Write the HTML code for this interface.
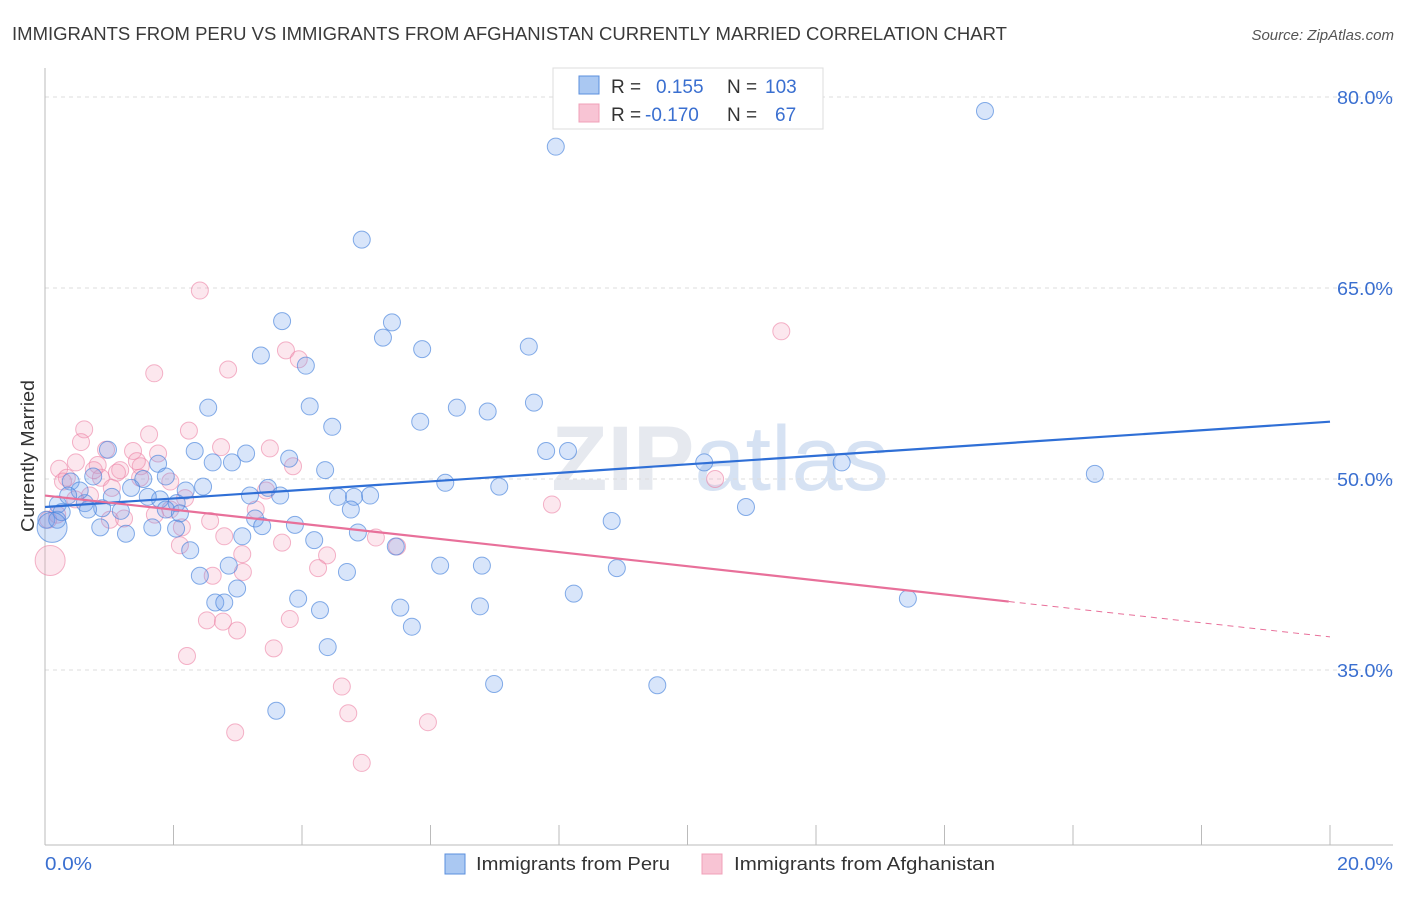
<!DOCTYPE html>
<html><head><meta charset="utf-8"><style>
body{margin:0;background:#fff;font-family:"Liberation Sans",sans-serif}
svg text{font-family:"Liberation Sans",sans-serif}
</style></head><body>
<svg id="chart" width="1406" height="892" viewBox="0 0 1406 892" xmlns="http://www.w3.org/2000/svg">
<text x="12" y="40" font-size="18" fill="#3a3a3a" textLength="995" lengthAdjust="spacingAndGlyphs">IMMIGRANTS FROM PERU VS IMMIGRANTS FROM AFGHANISTAN CURRENTLY MARRIED CORRELATION CHART</text>
<text x="1394" y="40" font-size="15" fill="#555" text-anchor="end" font-style="italic">Source: ZipAtlas.com</text>
<text x="720" y="490" font-size="92" fill="#e6e9ef" text-anchor="middle" font-family="Liberation Serif" font-weight="bold">ZIP<tspan font-family="Liberation Sans" font-weight="normal" fill="#d6e2f3">atlas</tspan></text>
<g id="grid"></g><g id="axes"></g><g id="pts"></g><g id="trend"></g>
<text transform="translate(34,456) rotate(-90)" font-size="18" fill="#333" text-anchor="middle" textLength="152" lengthAdjust="spacingAndGlyphs">Currently Married</text>
<g>
<rect x="553" y="68" width="270" height="61" fill="#fff" stroke="#ddd"/>
<rect x="579" y="76" width="20" height="18" fill="#aac8f2" stroke="#5b8fdd"/>
<rect x="579" y="104" width="20" height="18" fill="#f8c4d4" stroke="#f0a0b8"/>
<text x="611" y="93" font-size="19" fill="#333">R = <tspan fill="#3a6fd0" x="656">0.155</tspan><tspan fill="#333" x="727">N =</tspan><tspan fill="#3a6fd0" x="765">103</tspan></text>
<text x="611" y="121" font-size="19" fill="#333">R = <tspan fill="#3a6fd0" x="645">-0.170</tspan><tspan fill="#333" x="727">N =</tspan><tspan fill="#3a6fd0" x="775">67</tspan></text>
</g>
<g>
<rect x="445" y="854" width="20" height="20" fill="#aac8f2" stroke="#5b8fdd"/>
<text x="476" y="870" font-size="18" fill="#333" textLength="194" lengthAdjust="spacingAndGlyphs">Immigrants from Peru</text>
<rect x="702" y="854" width="20" height="20" fill="#f8c4d4" stroke="#f0a0b8"/>
<text x="734" y="870" font-size="18" fill="#333" textLength="261" lengthAdjust="spacingAndGlyphs">Immigrants from Afghanistan</text>
</g>
</svg>
<script>
const yTicks=[80,65,50,35];
const xTickLabels=["0.0%","20.0%"];
const blueX=[14.63,7.95,4.93,3.69,5.40,5.26,5.87,3.36,7.53,4.06,2.54,4.12,6.41,6.89,7.61,5.84,4.47,0.98,2.33,3.13,7.80,8.14,3.80,2.61,2.91,4.36,10.26,12.40,16.34,1.76,1.88,1.53,0.75,0.40,2.46,2.19,1.34,6.23,7.07,3.47,3.19,3.66,4.56,4.81,5.06,1.04,1.79,2.05,0.20,0.62,0.89,1.18,4.76,1.88,2.10,3.27,8.82,10.91,0.02,0.19,0.86,1.26,1.67,2.04,3.38,3.89,4.19,3.07,4.87,5.46,2.26,6.15,6.80,8.90,2.86,4.70,2.41,2.99,8.23,3.94,2.65,2.79,4.28,5.53,6.77,5.71,13.43,4.40,6.99,9.53,3.60,0.26,0.54,0.67,1.60,0.36];
const blueY=[78.9,76.1,68.8,62.4,62.3,61.1,60.2,59.7,60.4,58.9,55.6,55.7,55.6,55.3,56.0,54.5,54.1,52.3,52.2,52.0,52.2,52.2,51.6,51.3,51.3,50.7,51.3,51.3,50.4,51.2,50.2,50.0,50.2,49.8,49.4,49.1,49.3,49.7,49.4,49.3,48.7,48.7,48.6,48.6,48.7,48.6,48.4,48.1,48.0,48.1,47.7,47.5,47.6,47.6,47.3,46.9,46.7,47.8,46.8,46.8,46.2,45.7,46.2,46.1,46.3,46.4,45.2,45.5,45.8,44.7,44.4,43.2,43.2,43.0,43.2,42.7,42.4,41.4,41.0,40.6,40.3,40.3,39.7,39.9,40.0,38.4,40.6,36.8,33.9,33.8,31.8,47.4,49.1,47.6,48.6,48.7];
const blueBigX=[0.11], blueBigY=[46.2];
const pinkX=[2.41,11.46,3.75,1.70,2.85,3.95,0.61,0.56,2.24,1.62,2.74,3.50,0.95,0.22,0.48,0.82,1.37,1.76,1.49,1.17,1.43,3.86,0.87,0.34,1.12,1.95,10.43,7.89,2.18,1.01,1.23,2.13,2.57,3.44,3.28,2.79,3.07,2.10,3.69,5.15,5.48,4.39,4.25,3.08,2.61,2.52,2.77,2.99,3.81,3.56,2.21,4.62,4.72,5.96,2.96,4.93,0.19,0.05,0.28,0.76,1.95,0.70,1.04,0.47,1.48,1.71];
const pinkY=[64.8,61.6,60.1,58.3,58.6,59.4,53.9,52.9,53.8,53.5,52.5,52.4,52.3,50.8,51.3,51.1,52.2,52.0,51.0,50.7,51.4,51.0,50.1,50.1,50.5,49.8,50.0,48.0,48.5,46.8,46.9,46.2,46.7,49.1,47.6,45.5,44.1,44.8,45.0,45.4,44.7,44.0,43.0,42.7,42.4,38.9,38.8,38.1,39.0,36.7,36.1,33.7,31.6,30.9,30.1,27.7,47.2,46.8,49.8,50.7,47.6,48.7,49.3,48.4,50.1,47.2];
const pinkBigX=[0.08], pinkBigY=[43.6];
const blueTrend=[47.8,54.5];
const pinkTrend=[48.7,37.6];
const pinkSolidEnd=15.0;

const NS="http://www.w3.org/2000/svg";
const X=v=>45+v*64.25;
const Y=v=>97+(80-v)*12.733;
function mk(tag,attrs,parent){const e=document.createElementNS(NS,tag);for(const k in attrs)e.setAttribute(k,attrs[k]);parent.appendChild(e);return e;}
const grid=document.getElementById('grid'),axes=document.getElementById('axes'),pts=document.getElementById('pts'),trend=document.getElementById('trend');
yTicks.forEach(t=>{
  const l=mk('line',{x1:45,x2:1393,y1:Y(t),y2:Y(t),stroke:'#dcdcdc','stroke-dasharray':'4,4'},grid);
  
  
  const tx=mk('text',{x:1337,y:Y(t)+7,'font-size':18,fill:'#3a6fd0',textLength:56,lengthAdjust:'spacingAndGlyphs'},grid);
  tx.textContent=t.toFixed(1)+'%';
  
  
});
const ax=mk('line',{x1:45,x2:45,y1:68,y2:845,stroke:'#bbb'},axes);


const bx=mk('line',{x1:45,x2:1393,y1:845,y2:845,stroke:'#bbb'},axes);


for(let i=0;i<=10;i++){
  const tk=mk('line',{x1:X(i*2),x2:X(i*2),y1:825,y2:845,stroke:'#bbb'},axes);
  
  
}
[[0,45,47],[1,1337,56]].forEach(([i,x,w])=>{
  const t=mk('text',{x:x,y:870,'font-size':18,fill:'#3a6fd0',textLength:w,lengthAdjust:'spacingAndGlyphs'},axes);
  t.textContent=xTickLabels[i];
  
  
});
function dots(xs,ys,r,fill,stroke,name){
  xs.forEach((x,i)=>{
    const c=mk('circle',{cx:X(x),cy:Y(ys[i]),r:r,fill:fill,stroke:stroke,'stroke-width':1},pts);
    
    
  });
}
dots(pinkX,pinkY,8.5,'rgba(244,160,188,0.25)','rgba(236,130,165,0.6)','afghanistan-point');
dots(pinkBigX,pinkBigY,15,'rgba(244,160,188,0.25)','rgba(236,130,165,0.6)','afghanistan-point');
dots(blueX,blueY,8.5,'rgba(110,160,235,0.27)','rgba(70,130,220,0.65)','peru-point');
dots(blueBigX,blueBigY,15,'rgba(110,160,235,0.27)','rgba(70,130,220,0.65)','peru-point');
const bl=mk('line',{x1:X(0),y1:Y(blueTrend[0]),x2:X(20),y2:Y(blueTrend[1]),stroke:'#2f6fd6','stroke-width':2.2},trend);


const pm=pinkTrend[0]+(pinkTrend[1]-pinkTrend[0])*pinkSolidEnd/20;
const pl=mk('line',{x1:X(0),y1:Y(pinkTrend[0]),x2:X(pinkSolidEnd),y2:Y(pm),stroke:'#e8709a','stroke-width':2.2},trend);


const pd=mk('line',{x1:X(pinkSolidEnd),y1:Y(pm),x2:X(20),y2:Y(pinkTrend[1]),stroke:'#e8709a','stroke-width':1,'stroke-dasharray':'6,5'},trend);


</script>
</body></html>
